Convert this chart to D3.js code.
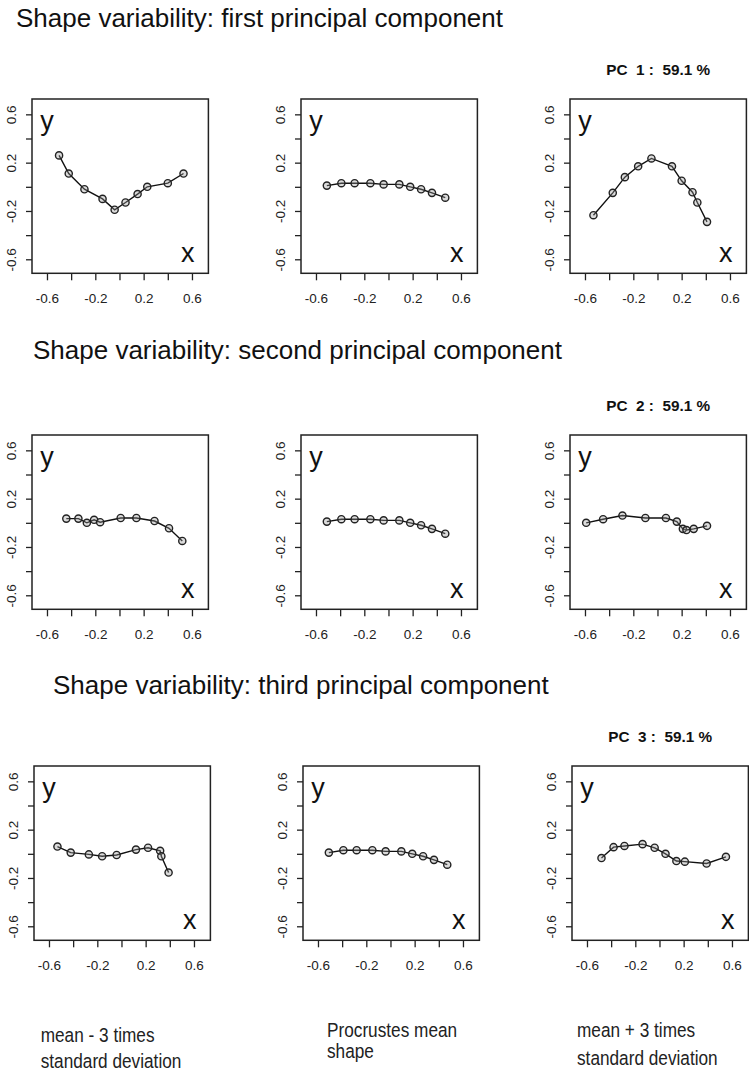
<!DOCTYPE html>
<html>
<head>
<meta charset="utf-8">
<script src="https://cdn.jsdelivr.net/npm/d3@7"></script>
<style>
  body { margin: 0; background: #fff; }
  text { font-family: "Liberation Sans", Arial, sans-serif; }
</style>
</head>
<body>
<svg id="chart" width="749" height="1084"></svg>
<script>
// landmark coordinates
var meanX = [-0.51, -0.39, -0.28, -0.15, -0.04, 0.09, 0.18, 0.27, 0.36, 0.47]
var meanY = [0.01, 0.03, 0.03, 0.03, 0.02, 0.02, 0.00, -0.02, -0.05, -0.09]

var pc1MinusX = [-0.50, -0.42, -0.29, -0.14, -0.04, 0.05, 0.15, 0.23, 0.40, 0.53]
var pc1MinusY = [0.26, 0.11, -0.02, -0.10, -0.19, -0.13, -0.06, 0.00, 0.03, 0.11]
var pc1PlusX = [-0.53, -0.37, -0.27, -0.16, -0.05, 0.12, 0.20, 0.29, 0.33, 0.41]
var pc1PlusY = [-0.235, -0.05, 0.08, 0.17, 0.235, 0.17, 0.05, -0.045, -0.13, -0.29]

var pc2MinusX = [-0.44, -0.34, -0.27, -0.21, -0.16, 0.01, 0.14, 0.29, 0.41, 0.52]
var pc2MinusY = [0.035, 0.035, 0.00, 0.025, 0.005, 0.04, 0.04, 0.015, -0.045, -0.15]
var pc2PlusX = [-0.59, -0.45, -0.29, -0.10, 0.07, 0.16, 0.21, 0.24, 0.30, 0.41]
var pc2PlusY = [0.00, 0.03, 0.06, 0.04, 0.04, 0.01, -0.05, -0.06, -0.05, -0.025]

var pc3MinusX = [-0.53, -0.42, -0.27, -0.16, -0.04, 0.12, 0.22, 0.32, 0.33, 0.39]
var pc3MinusY = [0.06, 0.01, -0.005, -0.02, -0.01, 0.035, 0.05, 0.025, -0.02, -0.155]
var pc3PlusX = [-0.48, -0.38, -0.29, -0.14, -0.04, 0.05, 0.14, 0.21, 0.39, 0.55]
var pc3PlusY = [-0.035, 0.055, 0.065, 0.08, 0.05, 0.00, -0.06, -0.065, -0.08, -0.025]

var rowTitles = ["Shape variability: first principal component",
                 "Shape variability: second principal component",
                 "Shape variability: third principal component"]
var pcLabels = ["PC  1 :  59.1 %", "PC  2 :  59.1 %", "PC  3 :  59.1 %"]
var tickValues = [-0.6, -0.4, -0.2, 0, 0.2, 0.4, 0.6]
var tickLabels = [-0.6, -0.2, 0.2, 0.6]
var captions = [["mean - 3 times", "standard deviation"],
                ["Procrustes mean", "shape"],
                ["mean + 3 times", "standard deviation"]]

var panels = [
  [[pc1MinusX, pc1MinusY], [meanX, meanY], [pc1PlusX, pc1PlusY]],
  [[pc2MinusX, pc2MinusY], [meanX, meanY], [pc2PlusX, pc2PlusY]],
  [[pc3MinusX, pc3MinusY], [meanX, meanY], [pc3PlusX, pc3PlusY]]
]

// layout
var rows = [
  {top: 99, lefts: [32, 301, 570], titleX: 16, titleY: 26.7},
  {top: 435, lefts: [32, 301, 570], titleX: 33, titleY: 358.5},
  {top: 766, lefts: [34, 303, 572], titleX: 53, titleY: 693.5}
]
var boxW = 176.4, boxH = 174.3

var svg = d3.select("#chart")
svg.append("rect").attr("width", 749).attr("height", 1084).attr("fill", "#fff")

var x = d3.scaleLinear().domain([-0.724, 0.736]).range([0, boxW])
var y = d3.scaleLinear().domain([-0.716, 0.727]).range([boxH, 0])

var line = d3.line()
  .x(function(d) { return x(d[0]) })
  .y(function(d) { return y(d[1]) })

function fmt(d) {
  return tickLabels.indexOf(d) >= 0 ? d3.format(".1f")(d).replace("−", "-") : ""
}

rows.forEach(function(row, r) {
  svg.append("text")
    .attr("x", row.titleX).attr("y", row.titleY)
    .attr("font-size", 26).attr("fill", "#111")
    .text(rowTitles[r])

  svg.append("text")
    .attr("x", row.lefts[2] + boxW / 2).attr("y", row.top - 24)
    .attr("text-anchor", "middle")
    .attr("font-size", 15.3).attr("font-weight", "bold").attr("fill", "#111")
    .style("white-space", "pre")
    .text(pcLabels[r])

  row.lefts.forEach(function(left, c) {
    var g = svg.append("g").attr("transform", "translate(" + left + "," + row.top + ")")
    var pts = d3.zip(panels[r][c][0], panels[r][c][1])

    var gx = g.append("g").attr("transform", "translate(0," + boxH + ")")
      .call(d3.axisBottom(x).tickValues(tickValues).tickFormat(fmt).tickSize(7).tickPadding(13))
    gx.select(".domain").remove()
    gx.selectAll("text").attr("font-size", 13.5).attr("fill", "#222")
      .attr("font-family", "Liberation Sans, Arial, sans-serif")
    gx.selectAll("line").attr("stroke", "#222").attr("stroke-width", 1.3)

    var gy = g.append("g").call(d3.axisLeft(y).tickValues(tickValues).tickFormat(fmt).tickSize(6))
    gy.select(".domain").remove()
    gy.selectAll("line").attr("stroke", "#222").attr("stroke-width", 1.3)
    gy.selectAll("text")
      .attr("x", 0).attr("dy", "0.35em")
      .attr("transform", "translate(-20.5,0) rotate(-90)")
      .attr("text-anchor", "middle")
      .attr("font-size", 13.5).attr("fill", "#222")
      .attr("font-family", "Liberation Sans, Arial, sans-serif")

    g.append("rect")
      .attr("width", boxW).attr("height", boxH)
      .attr("fill", "none").attr("stroke", "#222").attr("stroke-width", 1.5)

    g.append("text").attr("x", x(-0.6)).attr("y", y(0.6) + 16)
      .attr("text-anchor", "middle").attr("font-size", 27).attr("fill", "#111").text("y")
    g.append("text").attr("x", x(0.565)).attr("y", y(-0.6) + 2.5)
      .attr("text-anchor", "middle").attr("font-size", 27).attr("fill", "#111").text("x")

    g.append("path").datum(pts)
      .attr("fill", "none").attr("stroke", "#111").attr("stroke-width", 1.4)
      .attr("d", line)

    g.selectAll("circle").data(pts).enter().append("circle")
      .attr("cx", function(d) { return x(d[0]) })
      .attr("cy", function(d) { return y(d[1]) })
      .attr("r", 3.6)
      .attr("fill", "#999").attr("fill-opacity", 0.35)
      .attr("stroke", "#222").attr("stroke-width", 1.4)
  })
})

// captions under the columns (narrow lettering)
var capPos = [[40.7, 1042, 1068], [327, 1037, 1058], [577, 1037, 1065]]
captions.forEach(function(cap, i) {
  cap.forEach(function(t, k) {
    svg.append("text")
      .attr("transform", "translate(" + capPos[i][0] + "," + capPos[i][k + 1] + ") scale(0.84,1)")
      .attr("font-size", 20.5).attr("fill", "#222")
      .text(t)
  })
})
</script>
</body>
</html>
